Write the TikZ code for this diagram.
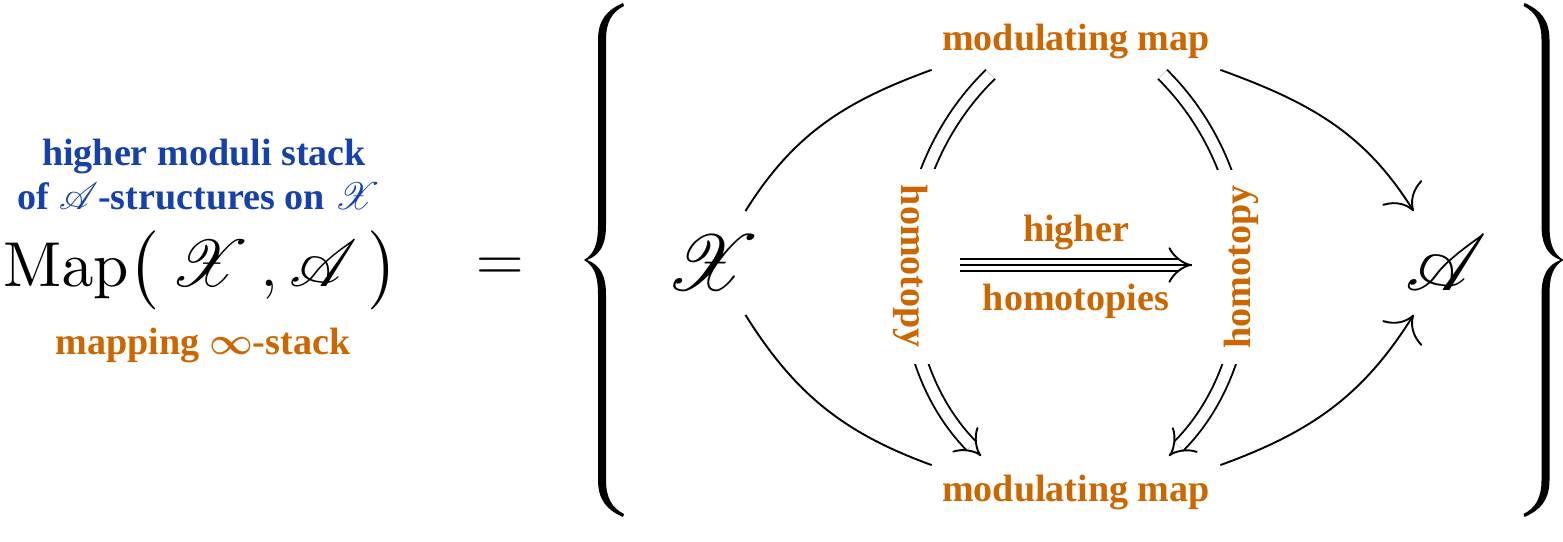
\documentclass[tikz,border=0pt]{standalone}
\usepackage{amsmath}
\usepackage{mathrsfs}
\usepackage[no-math]{fontspec}
\setmainfont{Liberation Serif}
\usetikzlibrary{arrows.meta,calc}
\definecolor{orng}{RGB}{204,102,0}
\definecolor{blu}{RGB}{22,64,170}
\font\mapfont=cmr10 at 20pt

\begin{document}
\begin{tikzpicture}[x=.315pt,y=.315pt,semithick,>={To[scale=2.4]},
  lab/.style={font=\fontsize{12}{14}\selectfont\bfseries,text=orng},
  obj/.style={circle,inner sep=0pt,minimum size=38pt,font=\fontsize{27}{30}\selectfont},
  dbl/.style={double,double distance=3.4pt,-{Implies}},
  gap/.style={lab,fill=white,inner sep=5pt}]
\useasboundingbox (0,0) rectangle (1563,542);
% left hand side
\node[lab,text=blu,anchor=base] (hi) at (204,376) {higher moduli stack};
\node[lab,text=blu,anchor=base] (of) at (199,332) {of $\mathscr{A}$-structures on $\mathscr{X}$};
\node[anchor=base,font=\fontsize{21}{25}\selectfont] (map) at (201,255) {{\mapfont Map}$\bigl(\,\mathscr{X}\,,\mathscr{A}\,\bigr)$};
\node[lab,anchor=base] (ms) at (203,187) {mapping $\boldsymbol{\infty}$-stack};
\node[font=\fontsize{22}{26}\selectfont] (eq) at (500,272) {$=$};
% braces
\foreach \s/\c in {1/0,-1/2147.5}{
\fill[shift={(\c,0)},xscale=\s] (623,539) .. controls (607,532) and (598,522) .. (598,502) -- (598,317)
  .. controls (598,297) and (594,288) .. (584,282) .. controls (594,276) and (598,267) .. (598,247)
  -- (598,62) .. controls (598,42) and (607,32) .. (623,25) -- (624,28) .. controls (612,34) and (606,44) .. (606,62)
  -- (606,247) .. controls (606,267) and (600,277) .. (587,282) .. controls (600,287) and (606,297) .. (606,317)
  -- (606,502) .. controls (606,520) and (612,530) .. (624,536) -- cycle;}
% objects and maps
\node[obj] (X) at (713,279) {$\mathscr{X}$};
\node[obj] (A) at (1446,279) {$\mathscr{A}$};
\node[lab,anchor=base,inner sep=3pt] (top) at (1076,491) {modulating map};
\node[lab,anchor=base,inner sep=3pt] (bot) at (1076,40) {modulating map};
\draw (X) to[out=58,in=200] (top.south west);
\draw[->] (top.south east) to[out=-20,in=122] (A);
\draw (X) to[out=-58,in=160] (bot.north west);
\draw[->] (bot.north east) to[out=20,in=238] (A);
% homotopies
\draw[dbl,shorten <=2pt,shorten >=4pt] ($(top.south)+(-81,0)$) to[bend right=45] node[gap,rotate=-90]{homotopy} ($(bot.north)+(-86,0)$);
\draw[dbl,shorten <=2pt,shorten >=4pt] ($(top.south)+(82,0)$) to[bend left=45] node[gap,rotate=90]{homotopy} ($(bot.north)+(84,0)$);
\coordinate (tl) at (960,277);
\coordinate (tr) at (1192,277);
\draw[dbl] (tl) -- (tr);
\draw (tl) -- (tr);
\node[lab,anchor=base] (hg) at (1076,300) {higher};
\node[lab,anchor=base] (hm) at (1076,231) {homotopies};
\end{tikzpicture}
\end{document}
